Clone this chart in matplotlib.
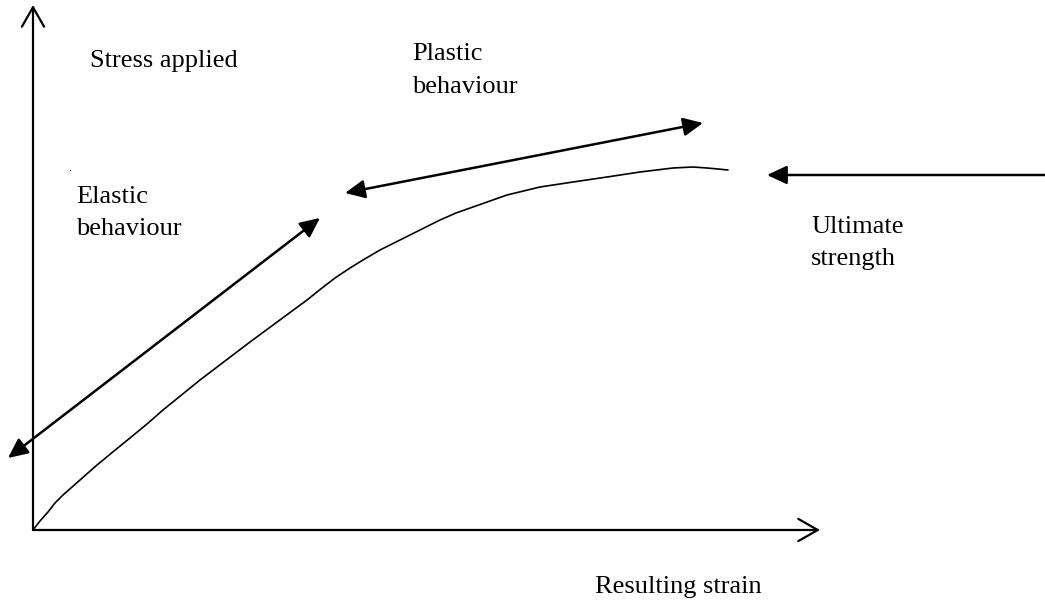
import matplotlib
matplotlib.use("Agg")
import matplotlib.pyplot as plt
from matplotlib.patches import FancyArrowPatch, ArrowStyle

plt.rcParams['font.family'] = ['Liberation Serif', 'DejaVu Serif']

# stress-strain curve, in picture units (x right, y down)
curve_x = [33, 40, 48, 55, 63, 80, 97, 114, 130, 147, 163, 200, 250, 307, 322, 335, 350,
           363, 380, 400, 420, 440, 456, 473, 490, 507, 540, 573, 607, 640, 673, 693, 707, 718, 728]
curve_y = [530, 521, 512, 503, 495, 480, 465, 451, 438, 424, 410, 380, 342, 300, 288, 278, 268,
           260, 250, 240, 230, 220, 213, 207, 201, 195, 187, 182, 177, 172, 168, 167, 168, 169, 170]

# axes
origin = (33, 530)
y_axis_tip = (33, 5)
x_axis_tip = (820, 530)

# annotation arrows: (start, end)
elastic_arrow = ((8, 458), (320, 218))
plastic_arrow = ((345, 193), (703, 123))
ultimate_arrow = ((1045, 175), (767, 175))

# one entry per text line: (text, left x, baseline y)
labels = [
    ("Stress applied", 90, 67),
    ("Plastic", 412, 60),
    ("behaviour", 412, 93),
    ("Elastic", 76, 203),
    ("behaviour", 76, 235),
    ("Ultimate", 811, 233),
    ("strength", 811, 265),
    ("Resulting strain", 595, 593),
]

fig = plt.figure(figsize=(10.45, 6.01), dpi=100)
ax = fig.add_axes([0, 0, 1, 1])
ax.set_xlim(0, 1045)
ax.set_ylim(601, 0)
ax.axis('off')

open_head = ArrowStyle('->', head_length=0.7, head_width=0.4)
for tip in (y_axis_tip, x_axis_tip):
    ax.add_patch(FancyArrowPatch(origin, tip, arrowstyle=open_head, mutation_scale=20,
                                 lw=1.6, color='black', shrinkA=0, shrinkB=0))

ax.plot(curve_x, curve_y, color='black', lw=1.2, solid_capstyle='round')

both = ArrowStyle('<|-|>', head_length=0.6, head_width=0.28)
one = ArrowStyle('-|>', head_length=0.6, head_width=0.28)
for (a, b), style in ((elastic_arrow, both), (plastic_arrow, both), (ultimate_arrow, one)):
    ax.add_patch(FancyArrowPatch(a, b, arrowstyle=style, mutation_scale=20,
                                 lw=1.8, color='black', shrinkA=0, shrinkB=0))

# stray mark above "Elastic"
ax.plot([70], [170], marker='s', ms=0.8, color='black', mew=0)

for txt, x, y in labels:
    ax.text(x, y, txt, fontsize=19, ha='left', va='baseline')

fig.savefig('out.png', dpi=100)
